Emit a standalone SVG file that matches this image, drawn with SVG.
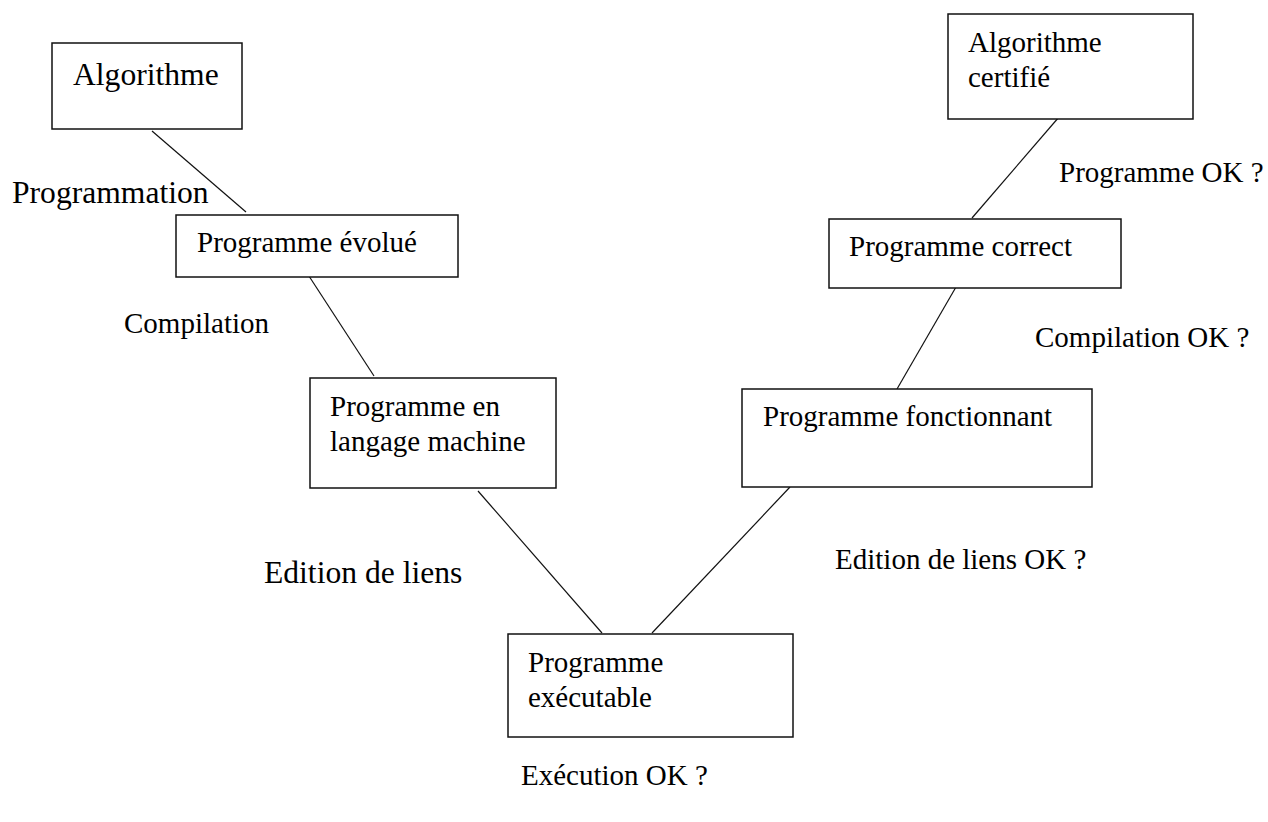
<svg xmlns="http://www.w3.org/2000/svg" width="1268" height="822" viewBox="0 0 1268 822">
<style>
.box{fill:#fff;stroke:#111;stroke-width:1.5}
.ln{stroke:#111;stroke-width:1.2;fill:none}
text{font-family:"Liberation Serif","Times New Roman",serif;fill:#000;font-size:29px}
.big{font-size:31.6px}
</style>
<rect width="1268" height="822" fill="#fff"/>
<g id="connectors">
<line class="ln" x1="152" y1="131" x2="246" y2="212"/>
<line class="ln" x1="307" y1="273" x2="374" y2="376"/>
<line class="ln" x1="478" y1="491" x2="602" y2="633"/>
<line class="ln" x1="790" y1="487" x2="652" y2="633"/>
<line class="ln" x1="897" y1="389" x2="956" y2="287"/>
<line class="ln" x1="972" y1="218" x2="1059" y2="117"/>
</g>
<g id="algorithme">
<rect class="box" x="52" y="43" width="190" height="86"/>
<text class="big" x="73" y="85">Algorithme</text>
</g>
<g id="programme-evolue">
<rect class="box" x="176" y="215" width="282" height="62"/>
<text x="197" y="252">Programme évolué</text>
</g>
<g id="programme-langage-machine">
<rect class="box" x="310" y="378" width="246" height="110"/>
<text x="330" y="416">Programme en</text>
<text x="330" y="451">langage machine</text>
</g>
<g id="programme-executable">
<rect class="box" x="508" y="634" width="285" height="103"/>
<text x="528" y="672">Programme</text>
<text x="528" y="707">exécutable</text>
</g>
<g id="programme-fonctionnant">
<rect class="box" x="742" y="389" width="350" height="98"/>
<text x="763" y="426">Programme fonctionnant</text>
</g>
<g id="programme-correct">
<rect class="box" x="829" y="219" width="292" height="69"/>
<text x="849" y="256">Programme correct</text>
</g>
<g id="algorithme-certifie">
<rect class="box" x="948" y="14" width="245" height="105"/>
<text x="968" y="52">Algorithme</text>
<text x="968" y="87">certifié</text>
</g>
<g id="labels">
<text class="big" x="12" y="203">Programmation</text>
<text x="124" y="333">Compilation</text>
<text class="big" x="264" y="583">Edition de liens</text>
<text x="521" y="785">Exécution OK ?</text>
<text x="835" y="569">Edition de liens OK ?</text>
<text x="1035" y="347">Compilation OK ?</text>
<text x="1059" y="182">Programme OK ?</text>
</g>
</svg>
